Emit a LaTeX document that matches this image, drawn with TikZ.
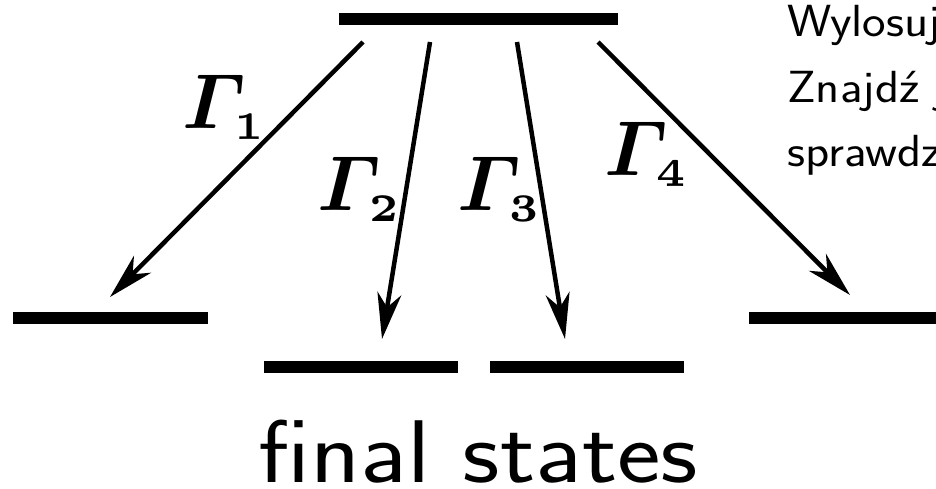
\documentclass[tikz,border=0pt]{standalone}
\usepackage{amsmath}
\usetikzlibrary{arrows.meta}

\tikzset{
  statebar/.style={line width=12pt},
  decayarrow/.style={line width=4.5pt, -{Stealth[length=46pt,width=24pt,inset=14pt]}},
  ratelabel/.style={inner sep=0pt, anchor=base west, scale=7.8, font=\boldmath},
  notetext/.style={inner sep=0pt, anchor=base west, xscale=1.11, font=\fontsize{45}{65}\selectfont\sffamily},
}

\begin{document}
\begin{tikzpicture}[x=1pt, y=-1pt]
  \useasboundingbox (0,0) rectangle (936,488);
  \clip (0,0) rectangle (936,488);

  % poziomy energetyczne
  \coordinate (topL) at (339,19);    \coordinate (topR) at (618,19);
  \coordinate (leftL) at (13,318);   \coordinate (leftR) at (208,318);
  \coordinate (rightL) at (749,318); \coordinate (rightR) at (945,318);
  \coordinate (lowAL) at (264,367);  \coordinate (lowAR) at (458,367);
  \coordinate (lowBL) at (490,367);  \coordinate (lowBR) at (684,367);

  \draw[statebar] (topL) -- (topR);
  \draw[statebar] (leftL) -- (leftR);
  \draw[statebar] (rightL) -- (rightR);
  \draw[statebar] (lowAL) -- (lowAR);
  \draw[statebar] (lowBL) -- (lowBR);

  % poczatki i konce strzalek
  \coordinate (s1) at (363,42);  \coordinate (t1) at (110,297);
  \coordinate (s2) at (430,42);  \coordinate (t2) at (382,339);
  \coordinate (s3) at (517,42);  \coordinate (t3) at (565,339);
  \coordinate (s4) at (598,42);  \coordinate (t4) at (850,295);

  \foreach \i in {1,...,4} \draw[decayarrow] (s\i) -- (t\i);

  % etykiety
  \node[ratelabel] (g1) at (181,128) {$\varGamma_{\scriptscriptstyle 1}$};
  \node[ratelabel] (g2) at (316,210) {$\varGamma_{\scriptscriptstyle 2}$};
  \node[ratelabel] (g3) at (456,210) {$\varGamma_{\scriptscriptstyle 3}$};
  \node[ratelabel] (g4) at (603,175) {$\varGamma_{\scriptscriptstyle 4}$};

  \node[inner sep=0pt, anchor=base west, xscale=1.165, font=\fontsize{89}{100}\selectfont\sffamily]
    (fin) at (258,482) {final states};

  \node[notetext] (n1) at (787,36) {Wylosuj};
  \node[notetext] (n2) at (787,102) {Znajdź j};
  \node[notetext] (n3) at (787,166) {sprawdz};
\end{tikzpicture}
\end{document}
